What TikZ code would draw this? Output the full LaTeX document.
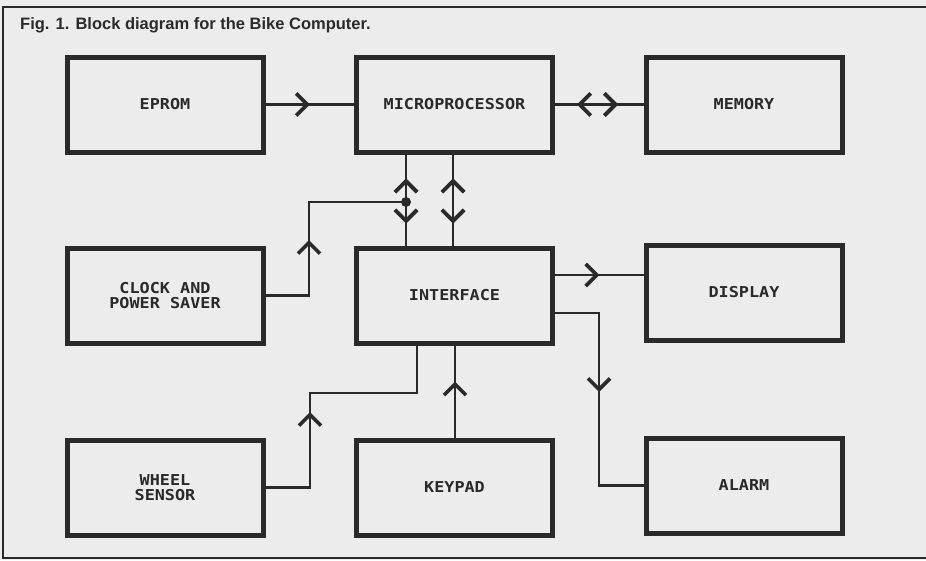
\documentclass[tikz,border=0pt]{standalone}
\usepackage{fontspec}
\setmainfont{Liberation Sans}
\newfontfamily\plotfont[FakeStretch=1.12]{DejaVu Sans Mono}
\usetikzlibrary{arrows.meta,decorations.markings}
\definecolor{bg}{RGB}{236,236,236}
\definecolor{ink}{RGB}{42,42,42}
\begin{document}
\begin{tikzpicture}[x=1pt,y=-1pt,
  blk/.style={draw=ink, line width=5pt, minimum width=196pt, minimum height=95pt,
    inner sep=0pt, font=\plotfont\bfseries\fontsize{15}{15.5}\selectfont, text=ink, align=center},
  wire/.style={draw=ink, line width=2.8pt},
  barb/.tip={Straight Barb[length=11pt,width=22pt]},
  fwd/.style={postaction={decorate}, decoration={markings,
    mark=at position #1 with {\arrow[ink,line width=3.6pt]{barb}}}},
  bwd/.style={postaction={decorate}, decoration={markings,
    mark=at position #1 with {\arrowreversed[ink,line width=3.6pt]{barb}}}},
]
\useasboundingbox[fill=bg] (0,0) rectangle (926,560);

% frame
\coordinate (f1) at (926,7);
\coordinate (f2) at (3,7);
\coordinate (f3) at (3,558);
\coordinate (f4) at (926,558);
\draw[ink, line width=2.5pt] (f1) -- (f2) -- (f3) -- (f4);

\node[anchor=base west, font=\bfseries\fontsize{16.5}{18}\selectfont, text=ink, inner sep=0pt]
  (title) at (20,29.5) {Fig. 1. Block diagram for the Bike Computer.};

% blocks
\node[blk] (eprom)  at (165,104.5)   {EPROM};
\node[blk] (micro)  at (454.5,104.5) {MICROPROCESSOR};
\node[blk] (memory) at (744,104.5)   {MEMORY};
\node[blk] (clock)  at (165,295.5)   {CLOCK AND\\POWER SAVER};
\node[blk] (iface)  at (454.5,295.5) {INTERFACE};
\node[blk] (disp)   at (744,292.5)   {DISPLAY};
\node[blk] (wheel)  at (165,487.5)   {WHEEL\\SENSOR};
\node[blk] (keypad) at (454.5,487.5) {KEYPAD};
\node[blk] (alarm)  at (744,485.5)   {ALARM};

% helper coordinates
\coordinate (c309) at (309,0);
\coordinate (c310) at (310,0);
\coordinate (c406) at (406,0);
\coordinate (c417) at (417,0);
\coordinate (c453) at (453,0);
\coordinate (c455) at (455,0);
\coordinate (c599) at (599,0);
\coordinate (r275) at (0,275);
\coordinate (r313) at (0,313);
\coordinate (r393) at (0,393);
\coordinate (j) at (406,202);

% connectors
\draw[wire, fwd=0.5] (eprom.east) -- (micro.west);
\draw[wire, bwd=22pt, fwd=63pt] (micro.east) -- (memory.west);
\draw[wire, bwd=24pt, fwd=69pt] (micro.south -| c406) -- (iface.north -| c406);
\draw[wire, bwd=24pt, fwd=69pt] (micro.south -| c453) -- (iface.north -| c453);
\draw[wire, fwd=99pt] (clock.east) -- (clock.east -| c309) |- (j);
\fill[ink] (j) circle (5pt);
\draw[wire, fwd=0.5] (iface.east |- r275) -- (disp.west |- r275);
\draw[wire, fwd=123pt] (iface.east |- r313) -| (c599 |- alarm.west) -- (alarm.west);
\draw[wire, fwd=120pt] (wheel.east) -- (c310 |- wheel.east) |- (c417 |- r393)
  -- (iface.south -| c417);
\draw[wire, fwd=56pt] (keypad.north -| c455) -- (iface.south -| c455);
\end{tikzpicture}
\end{document}
